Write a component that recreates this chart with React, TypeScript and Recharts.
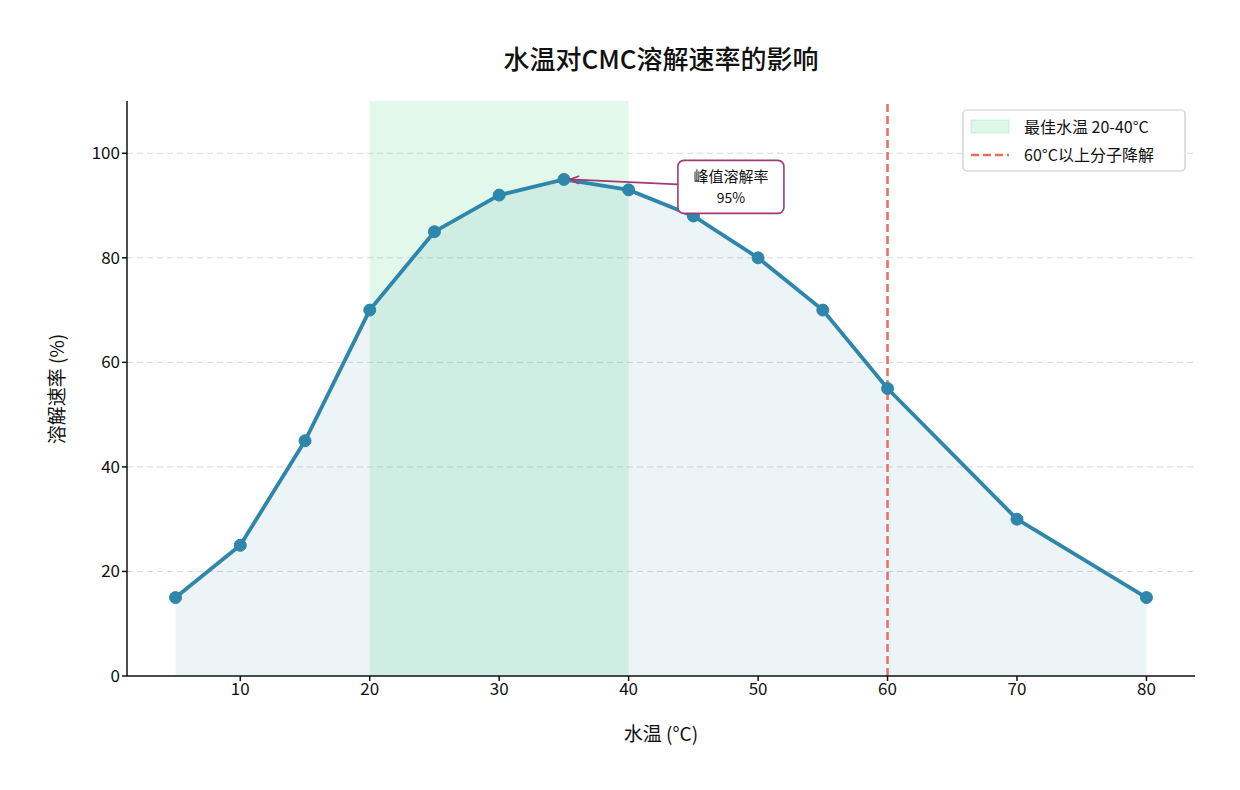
import React from "react";
import {
  ComposedChart,
  Area,
  Line,
  XAxis,
  YAxis,
  CartesianGrid,
  ReferenceArea,
  ReferenceLine,
  ReferenceDot,
} from "recharts";

// 水温 (°C) 与溶解速率 (%)
const temps = [5, 10, 15, 20, 25, 30, 35, 40, 45, 50, 55, 60, 70, 80];
const rates = [15, 25, 45, 70, 85, 92, 95, 93, 88, 80, 70, 55, 30, 15];
const xTicks = [10, 20, 30, 40, 50, 60, 70, 80];
const yTicks = [0, 20, 40, 60, 80, 100];
const gridValues = [20, 40, 60, 80, 100];
const bestRange = [20, 40];
const degradeTemp = 60;
const peak = { x: 35, y: 95, label: "峰值溶解率", value: "95%" };

const data = temps.map((t, i) => ({ temp: t, rate: rates[i] }));

const FONT = '"Noto Sans CJK SC", "DejaVu Sans", sans-serif';
const BLUE = "#2e86ab";
const PURPLE = "#a23b72";
const RED = "#ec6f5e";

function PeakNote(props: any) {
  const { cx, cy } = props;
  const bx = cx + 114;
  const by = cy - 19;
  const w = 106;
  const h = 53;
  const sx = bx;
  const sy = cy + 5;
  const tipX = cx + 6;
  const tipY = cy;
  const ang = Math.atan2(tipY - sy, tipX - sx);
  const a1 = ang + Math.PI - 0.4;
  const a2 = ang + Math.PI + 0.4;
  return (
    <g>
      <line x1={sx} y1={sy} x2={tipX} y2={tipY} stroke={PURPLE} strokeWidth={1.6} />
      <path
        d={`M${tipX + 10 * Math.cos(a1)},${tipY + 10 * Math.sin(a1)} L${tipX},${tipY} L${tipX + 10 * Math.cos(a2)},${tipY + 10 * Math.sin(a2)}`}
        fill="none"
        stroke={PURPLE}
        strokeWidth={1.6}
      />
      <rect x={bx} y={by} width={w} height={h} rx={6} fill="#fff" stroke={PURPLE} strokeWidth={1.6} />
      <text x={bx + w / 2} y={by + 22} textAnchor="middle" fontSize={15} fontFamily={FONT} fill="#111">
        {peak.label}
      </text>
      <text x={bx + w / 2} y={by + 43} textAnchor="middle" fontSize={14} fontFamily={FONT} fill="#111">
        {peak.value}
      </text>
    </g>
  );
}

export default function App() {
  return (
    <div style={{ position: "absolute", left: 0, top: 0, width: 1240, height: 790, background: "#fff", fontFamily: FONT }}>
      <ComposedChart
        width={1240}
        height={790}
        data={data}
        margin={{ top: 101, right: 45, bottom: 84, left: 67 }}
      >
        <text x={661} y={69} textAnchor="middle" fontSize={26} fontWeight={500} fontFamily={FONT} fill="#111">
          水温对CMC溶解速率的影响
        </text>
        <CartesianGrid
          vertical={false}
          horizontal
          horizontalValues={gridValues}
          stroke="#d8d8d8"
          strokeDasharray="6 4"
        />
        <XAxis
          dataKey="temp"
          type="number"
          domain={[1.25, 83.75]}
          ticks={xTicks}
          height={30}
          axisLine={{ stroke: "#111", strokeWidth: 1.5 }}
          tickLine={{ stroke: "#111", strokeWidth: 1.5 }}
          tickSize={5}
          tick={{ fontSize: 17, fill: "#111", fontFamily: FONT }}
          allowDataOverflow
        />
        <YAxis
          type="number"
          domain={[0, 110]}
          ticks={yTicks}
          width={60}
          axisLine={{ stroke: "#111", strokeWidth: 1.5 }}
          tickLine={{ stroke: "#111", strokeWidth: 1.5 }}
          tickSize={5}
          tick={{ fontSize: 17, fill: "#111", fontFamily: FONT }}
          allowDataOverflow
        />
        <ReferenceArea x1={bestRange[0]} x2={bestRange[1]} y1={0} y2={110} fill="#2ecc71" fillOpacity={0.14} stroke="none" />
        <Area
          type="linear"
          dataKey="rate"
          stroke="none"
          fill={BLUE}
          fillOpacity={0.09}
          isAnimationActive={false}
        />
        <Line
          type="linear"
          dataKey="rate"
          stroke={BLUE}
          strokeWidth={3.8}
          dot={{ r: 6, fill: BLUE, stroke: BLUE, strokeWidth: 1 }}
          activeDot={false}
          isAnimationActive={false}
        />
        <ReferenceLine x={degradeTemp} stroke={RED} strokeWidth={2.5} strokeDasharray="8 4" />
        <ReferenceDot x={peak.x} y={peak.y} r={0} shape={PeakNote} />
        <text x={661} y={741} textAnchor="middle" fontSize={19} fontFamily={FONT} fill="#111">
          水温 (°C)
        </text>
        <text
          x={64}
          y={389}
          textAnchor="middle"
          fontSize={19}
          fontFamily={FONT}
          fill="#111"
          transform="rotate(-90 64 389)"
        >
          溶解速率 (%)
        </text>
        <g>
          <rect x={963} y={110} width={222} height={61} rx={4} fill="#fff" fillOpacity={0.85} stroke="#ccc" strokeWidth={1.2} />
          <rect x={971} y={120} width={38} height={13} fill="#2ecc71" fillOpacity={0.16} stroke="#2ecc71" strokeOpacity={0.2} />
          <text x={1024} y={133} fontSize={16} fontFamily={FONT} fill="#111">
            最佳水温 20-40°C
          </text>
          <line x1={971} y1={155} x2={1009} y2={155} stroke={RED} strokeWidth={2.5} strokeDasharray="8 4" />
          <text x={1024} y={161} fontSize={16} fontFamily={FONT} fill="#111">
            60°C以上分子降解
          </text>
        </g>
      </ComposedChart>
    </div>
  );
}
